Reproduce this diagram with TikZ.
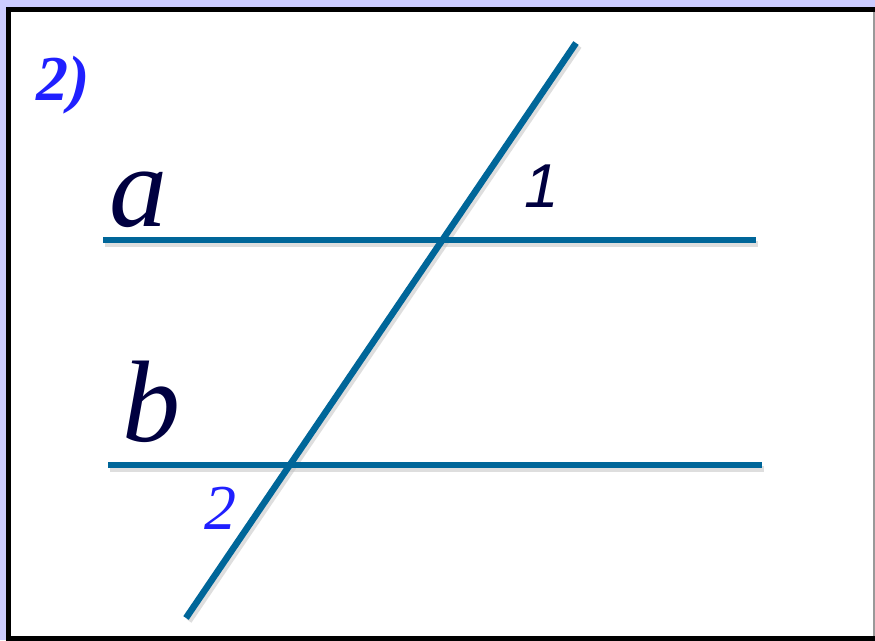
\documentclass[tikz,border=0pt]{standalone}
\usepackage{fontspec}
\setmainfont{Liberation Serif}
\newfontfamily\digitfont{Liberation Sans}
\definecolor{lavender}{HTML}{CCCCFF}
\definecolor{lineblue}{HTML}{006699}
\definecolor{inkdark}{HTML}{000040}
\definecolor{numblue}{HTML}{2020FF}
\begin{document}
\begin{tikzpicture}[
  x=1pt, y=-1pt,
  line/.style={draw=lineblue, line width=6.5pt},
  shade/.style={draw=black!25, line width=6pt, opacity=0.5},
  letter/.style={anchor=base, inner sep=0pt, text=inkdark, font=\itshape\fontsize{116}{116}\selectfont},
  angle/.style={anchor=base, inner sep=0pt}
]
\useasboundingbox (0,0) rectangle (875,640);
\fill[lavender] (0,0) rectangle (875,640);
\filldraw[fill=white, draw=black, line width=5pt] (8.5,9.5) rectangle (878,638.5);
\draw[black!40, line width=1.5pt] (874,12) -- (874,636);

% points of the lines
\coordinate (aL) at (103,240);
\coordinate (aR) at (756,240);
\coordinate (bL) at (108,465);
\coordinate (bR) at (762,465);
\coordinate (cT) at (576,43);
\coordinate (cB) at (186,618);

% soft shadows
\draw[shade] ([shift={(2,4)}]aL) -- ([shift={(2,4)}]aR);
\draw[shade] ([shift={(2,4)}]bL) -- ([shift={(2,4)}]bR);
\draw[shade] ([shift={(3,3)}]cT) -- ([shift={(3,3)}]cB);

\draw[line] (aL) -- (aR);
\draw[line] (bL) -- (bR);
\draw[line] (cT) -- (cB);

\node[angle, text=numblue, font=\bfseries\itshape\fontsize{64}{64}\selectfont] (task) at (63,100) {2)};
\node[letter] (la) at (138,226) {a};
\node[letter] (lb) at (151,441) {b};
\node[angle, text=inkdark, font=\digitfont\itshape\fontsize{62}{62}\selectfont] (one) at (542,207) {1};
\node[angle, text=numblue, font=\itshape\fontsize{64}{64}\selectfont] (two) at (220,529) {2};
\end{tikzpicture}
\end{document}
